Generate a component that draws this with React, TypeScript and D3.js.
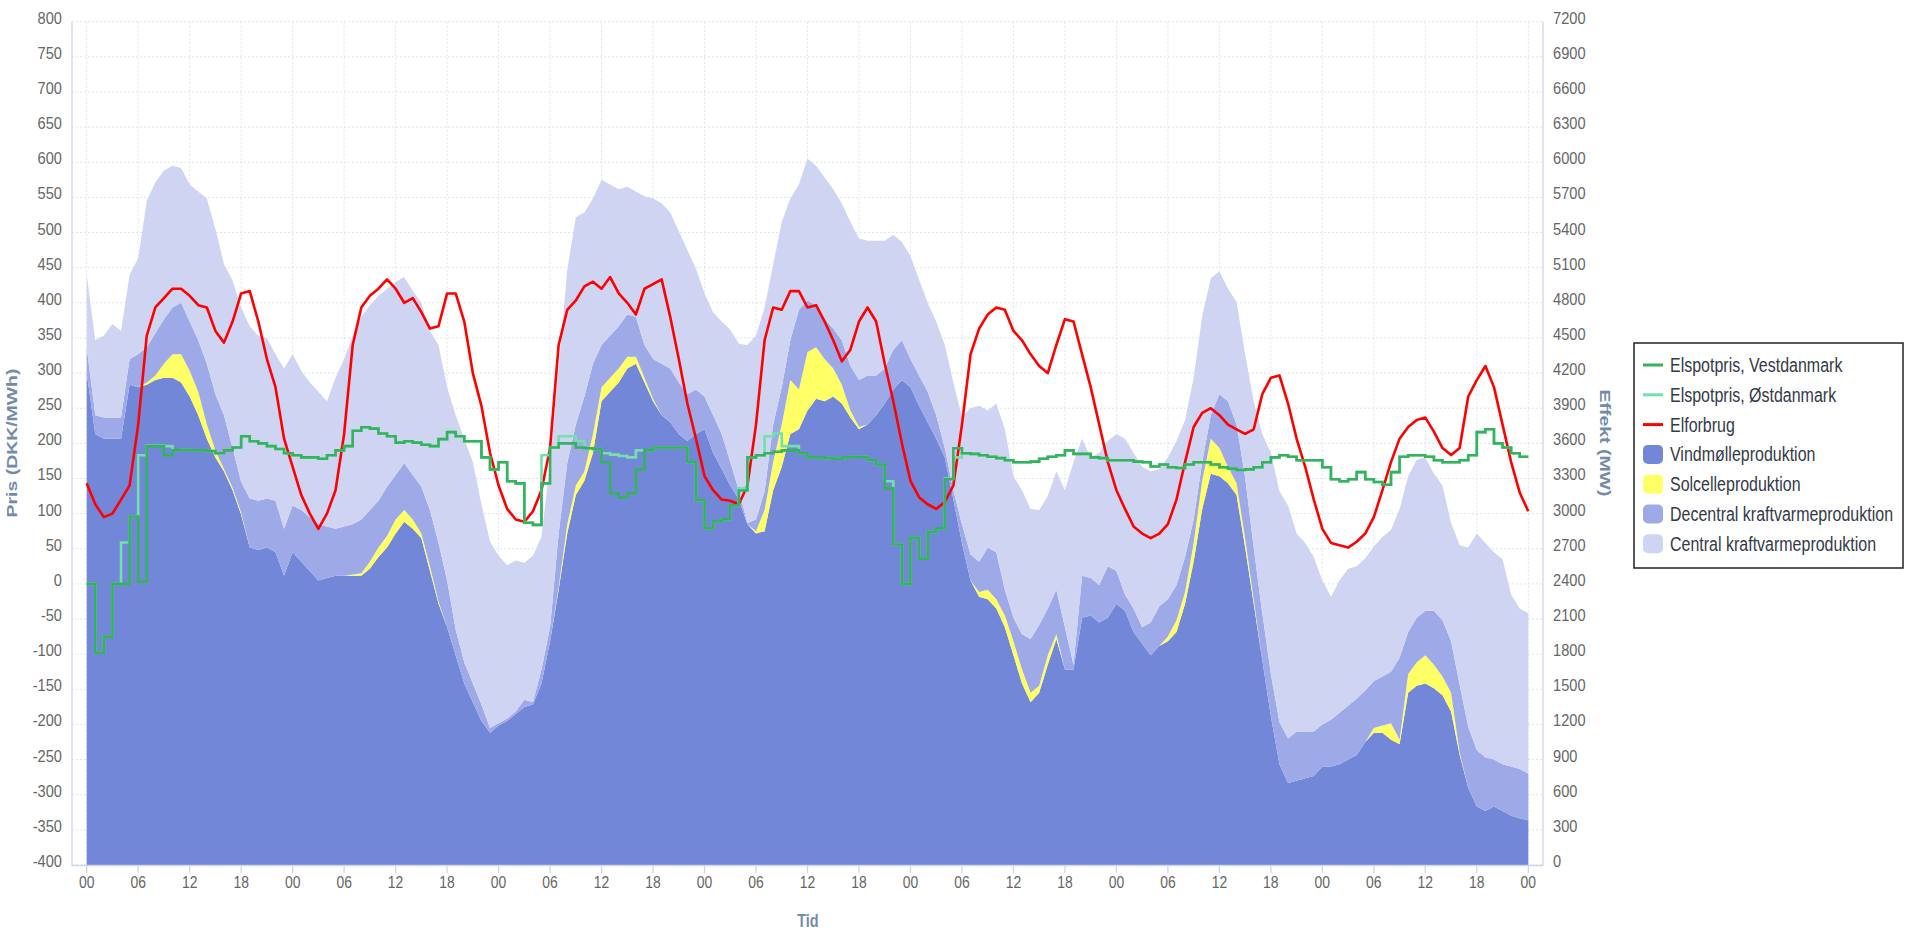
import React from 'react';
import * as d3 from 'd3';

// hours 0..168 (one week, hourly)
const hours = d3.range(0, 169);
const dayTicks = d3.range(0, 169, 6);
const tickLabels = ['00', '06', '12', '18'];
const prisTicks = d3.range(-400, 801, 50);
const effektTicks = d3.range(0, 7201, 300);

// MW, stacked areas
const vind = [4200, 3680, 3640, 3640, 3640, 4100, 4080, 4100, 4140, 4160, 4160, 4120, 4000, 3840, 3640, 3480, 3360, 3200, 2990, 2710, 2690, 2710, 2670, 2470, 2670, 2590, 2510, 2430, 2450, 2470, 2470, 2470, 2470, 2530, 2630, 2710, 2830, 2930, 2870, 2790, 2510, 2230, 2030, 1790, 1550, 1390, 1230, 1130, 1190, 1230, 1290, 1350, 1370, 1550, 1910, 2350, 2830, 3160, 3280, 3520, 3960, 4040, 4120, 4240, 4280, 4120, 3960, 3840, 3780, 3680, 3620, 3680, 3720, 3520, 3380, 3240, 3120, 2910, 2830, 2850, 3200, 3400, 3680, 3720, 3880, 3980, 3960, 4000, 3940, 3820, 3720, 3760, 3840, 3940, 4060, 4140, 4080, 3920, 3780, 3640, 3480, 3120, 2750, 2430, 2290, 2270, 2190, 2030, 1790, 1550, 1390, 1470, 1710, 1930, 1670, 1670, 2110, 2130, 2070, 2110, 2230, 2170, 1990, 1890, 1790, 1870, 1910, 1990, 2230, 2590, 3040, 3340, 3320, 3260, 3160, 2710, 2230, 1750, 1270, 860, 700, 720, 740, 760, 840, 840, 860, 900, 940, 1050, 1130, 1130, 1070, 1030, 1470, 1530, 1550, 1510, 1450, 1310, 940, 660, 500, 460, 500, 460, 420, 400, 380];
const sol = [0, 0, 0, 0, 0, 0, 0, 20, 40, 120, 200, 240, 220, 200, 120, 60, 20, 20, 20, 0, 0, 0, 0, 0, 0, 0, 0, 0, 0, 0, 0, 10, 20, 60, 80, 100, 120, 100, 80, 40, 40, 20, 0, 0, 0, 0, 0, 0, 0, 0, 0, 0, 0, 0, 0, 20, 80, 80, 80, 160, 120, 120, 120, 100, 60, 40, 20, 0, 0, 0, 0, 0, 0, 0, 0, 0, 0, 0, 20, 180, 240, 360, 460, 340, 500, 440, 360, 240, 160, 60, 20, 0, 0, 0, 0, 0, 0, 0, 0, 0, 0, 0, 0, 0, 40, 80, 80, 100, 120, 120, 80, 60, 80, 40, 0, 0, 0, 0, 0, 0, 0, 0, 0, 0, 0, 0, 40, 100, 100, 160, 240, 300, 240, 140, 100, 80, 40, 0, 0, 0, 0, 0, 0, 0, 0, 0, 0, 0, 0, 0, 40, 60, 140, 40, 160, 200, 240, 200, 160, 160, 20, 0, 0, 0, 0, 0, 0, 0, 0];
const decentral = [220, 160, 180, 180, 180, 220, 280, 300, 360, 380, 400, 440, 420, 440, 520, 480, 460, 340, 260, 420, 420, 420, 440, 400, 400, 440, 460, 480, 440, 400, 420, 430, 460, 440, 400, 420, 380, 400, 380, 400, 480, 500, 400, 220, 180, 160, 140, 40, 20, 20, 20, 60, 20, 120, 120, 460, 520, 520, 640, 600, 360, 360, 360, 360, 340, 280, 340, 440, 460, 440, 400, 380, 280, 320, 300, 200, 80, 10, 100, 160, 320, 320, 340, 680, 440, 360, 340, 340, 380, 380, 400, 420, 340, 300, 340, 340, 240, 260, 260, 200, 80, 80, 160, 220, 260, 360, 400, 220, 200, 300, 460, 520, 400, 380, 360, 40, 360, 320, 320, 440, 280, 140, 200, 140, 280, 340, 320, 300, 300, 200, 160, 200, 460, 560, 500, 520, 440, 400, 360, 360, 380, 420, 400, 380, 360, 400, 440, 460, 480, 440, 400, 420, 440, 700, 360, 380, 380, 460, 480, 440, 580, 520, 480, 460, 400, 400, 420, 420, 400];
const central = [620, 640, 700, 800, 740, 720, 820, 1250, 1290, 1270, 1210, 1150, 1170, 1270, 1410, 1410, 1290, 1430, 1490, 1470, 1410, 1370, 1250, 1370, 1290, 1190, 1150, 1130, 1070, 1290, 1430, 1610, 1730, 1750, 1750, 1690, 1650, 1590, 1570, 1570, 1530, 1690, 1650, 1830, 1910, 1890, 1710, 1590, 1430, 1310, 1290, 1170, 1250, 1130, 1410, 1410, 1650, 1770, 1570, 1410, 1410, 1290, 1170, 1090, 1070, 1270, 1370, 1370, 1330, 1290, 1230, 1030, 880, 880, 960, 1130, 1250, 1520, 1570, 1570, 1370, 1410, 1210, 1070, 1210, 1190, 1210, 1190, 1170, 1230, 1210, 1150, 1150, 1090, 980, 840, 880, 820, 760, 800, 880, 920, 920, 1250, 1330, 1170, 1270, 1370, 1210, 1230, 1110, 980, 960, 1010, 1170, 1730, 1170, 1030, 1130, 1070, 1170, 1330, 1330, 1370, 1290, 1170, 1210, 1230, 1170, 1210, 1250, 1170, 1050, 960, 1050, 1050, 1250, 1530, 1890, 1970, 1990, 1690, 1610, 1490, 1230, 1050, 1130, 1170, 1130, 1130, 1150, 1190, 1210, 1270, 1330, 1350, 1310, 1170, 1150, 1010, 1190, 1530, 1850, 1830, 1770, 1750, 1470, 1370, 1370];

// MW
const elforbrug = [3260, 3080, 2970, 3000, 3120, 3240, 3760, 4520, 4760, 4840, 4920, 4920, 4860, 4780, 4760, 4560, 4460, 4640, 4880, 4900, 4640, 4320, 4080, 3640, 3400, 3160, 3000, 2870, 3000, 3200, 3680, 4440, 4760, 4860, 4920, 5000, 4920, 4800, 4840, 4720, 4580, 4600, 4880, 4880, 4640, 4200, 3920, 3520, 3240, 3040, 2950, 2930, 3020, 3200, 3560, 4440, 4740, 4820, 4940, 4980, 4920, 5020, 4880, 4800, 4700, 4920, 4960, 5000, 4680, 4320, 3940, 3640, 3320, 3200, 3120, 3110, 3080, 3240, 3760, 4480, 4760, 4740, 4900, 4900, 4760, 4780, 4640, 4480, 4300, 4400, 4640, 4760, 4640, 4280, 3960, 3600, 3280, 3140, 3080, 3040, 3100, 3240, 3760, 4360, 4580, 4700, 4760, 4740, 4560, 4480, 4360, 4260, 4200, 4440, 4660, 4640, 4360, 4080, 3760, 3440, 3200, 3040, 2890, 2830, 2790, 2830, 2910, 3120, 3440, 3740, 3860, 3900, 3840, 3760, 3720, 3680, 3720, 4020, 4160, 4180, 3940, 3640, 3400, 3120, 2870, 2750, 2730, 2710, 2760, 2830, 2970, 3200, 3440, 3640, 3740, 3800, 3820, 3700, 3560, 3500, 3560, 4000, 4140, 4260, 4080, 3760, 3440, 3180, 3020];

// DKK/MWh, hourly steps
const prisVest = [0, -98, -75, 0, 0, 96, 3, 196, 196, 183, 190, 191, 190, 190, 189, 186, 190, 194, 210, 203, 200, 196, 192, 186, 183, 180, 180, 178, 183, 190, 196, 218, 223, 221, 214, 210, 201, 203, 201, 198, 196, 206, 216, 210, 203, 203, 180, 163, 173, 146, 143, 87, 84, 143, 194, 200, 200, 194, 193, 192, 173, 129, 123, 129, 163, 190, 194, 194, 194, 194, 173, 119, 79, 89, 92, 112, 133, 180, 183, 186, 188, 190, 190, 186, 180, 180, 179, 178, 180, 181, 181, 176, 170, 136, 56, 0, 66, 36, 74, 79, 149, 193, 186, 185, 183, 181, 179, 176, 173, 173, 174, 178, 181, 183, 190, 185, 185, 180, 179, 176, 176, 176, 174, 173, 167, 170, 166, 165, 170, 173, 173, 170, 166, 164, 162, 163, 166, 173, 180, 183, 181, 176, 176, 176, 166, 149, 146, 149, 159, 149, 145, 141, 159, 181, 183, 183, 181, 176, 173, 173, 176, 183, 216, 220, 200, 194, 186, 181];
const prisOst = [0, -98, -75, 0, 59, 96, 183, 197, 197, 196, 190, 191, 190, 190, 189, 186, 190, 194, 210, 203, 200, 196, 192, 186, 183, 180, 180, 178, 183, 190, 196, 218, 223, 221, 214, 210, 201, 203, 201, 198, 196, 206, 216, 210, 203, 203, 180, 163, 173, 146, 143, 87, 84, 183, 194, 210, 210, 203, 193, 192, 186, 184, 182, 180, 190, 190, 194, 194, 194, 194, 173, 119, 79, 89, 92, 112, 136, 180, 183, 210, 214, 196, 196, 186, 180, 180, 179, 178, 180, 181, 181, 176, 170, 146, 56, 0, 66, 36, 74, 79, 150, 180, 186, 185, 183, 181, 179, 176, 173, 173, 174, 178, 181, 183, 190, 185, 185, 180, 179, 176, 176, 176, 174, 173, 167, 170, 166, 165, 170, 173, 173, 170, 166, 164, 162, 163, 166, 173, 180, 183, 181, 176, 176, 176, 166, 149, 146, 149, 159, 149, 145, 141, 159, 181, 183, 183, 181, 176, 173, 173, 176, 183, 216, 220, 200, 194, 186, 181];

const legendItems = [
  { name: 'Elspotpris, Vestdanmark', color: '#33b35c', type: 'line' },
  { name: 'Elspotpris, Østdanmark', color: '#74e0ac', type: 'line' },
  { name: 'Elforbrug', color: '#ff0000', type: 'line' },
  { name: 'Vindmølleproduktion', color: '#7387d9', type: 'area' },
  { name: 'Solcelleproduktion', color: '#ffff66', type: 'area' },
  { name: 'Decentral kraftvarmeproduktion', color: '#9ea9e7', type: 'area' },
  { name: 'Central kraftvarmeproduktion', color: '#d0d4f3', type: 'area' },
];

const FONT = '"Liberation Sans", Arial, sans-serif';

const App: React.FC = () => {
  const x = d3.scaleLinear().domain([0, 168]).range([86.7, 1528.3]);
  const yPris = d3.scaleLinear().domain([-400, 800]).range([865, 21.7]);
  const yEffekt = d3.scaleLinear().domain([0, 7200]).range([865, 21.7]);
  const left = 72, right = 1543;

  const rows = hours.map((h, i) => ({ h, vind: vind[i], sol: sol[i], decentral: decentral[i], central: central[i] }));
  const keys = ['vind', 'sol', 'decentral', 'central'];
  const areaColors = ['#7387d9', '#ffff66', '#9ea9e7', '#d0d4f3'];
  const stacked = d3.stack<any>().keys(keys)(rows);
  const area = d3.area<any>()
    .x((d: any) => x(d.data.h))
    .y0((d: any) => yEffekt(d[0]))
    .y1((d: any) => yEffekt(d[1]));

  const forbrugLine = d3.line<number>()
    .x((_, i) => x(hours[i]))
    .y(d => yEffekt(d));

  const stepLine = d3.line<number>()
    .x((_, i) => x(hours[i]))
    .y(d => yPris(d))
    .curve(d3.curveStepAfter);
  const vest = [...prisVest, prisVest[prisVest.length - 1]];
  const ost = [...prisOst, prisOst[prisOst.length - 1]];

  return (
    <svg width={1905} height={934} style={{ position: 'absolute', left: 0, top: 0, background: '#fff' }} fontFamily={FONT}>
      {/* grid */}
      <g stroke="#dfe3ea" strokeWidth={1} strokeDasharray="2,2">
        {prisTicks.map(t => (
          <line key={'h' + t} x1={left} x2={right} y1={yPris(t)} y2={yPris(t)} />
        ))}
        {dayTicks.map(t => (
          <line key={'v' + t} x1={x(t)} x2={x(t)} y1={21.7} y2={865} />
        ))}
      </g>

      {/* stacked production */}
      {stacked.map((s, i) => (
        <path key={s.key} d={area(s as any) || ''} fill={areaColors[i]} />
      ))}

      <path d={forbrugLine(elforbrug) || ''} fill="none" stroke="#ff0000" strokeWidth={2.6} strokeLinejoin="round" />
      <path d={stepLine(ost) || ''} fill="none" stroke="#74e0ac" strokeWidth={2.6} />
      <path d={stepLine(vest) || ''} fill="none" stroke="#33b35c" strokeWidth={2.6} />

      {/* axis lines */}
      <g stroke="#ccd6eb" strokeWidth={1.3}>
        <line x1={left} x2={left} y1={21.7} y2={866} />
        <line x1={right} x2={right} y1={21.7} y2={866} />
        <line x1={left} x2={right} y1={865.5} y2={865.5} />
        {dayTicks.map(t => (
          <line key={'t' + t} x1={x(t)} x2={x(t)} y1={865} y2={873} />
        ))}
      </g>

      {/* left ticks */}
      <g fill="#666" fontSize={17}>
        {prisTicks.map(t => (
          <text key={'l' + t} transform={`translate(62,${yPris(t) + 2}) scale(0.86,1)`} textAnchor="end">{t}</text>
        ))}
        {effektTicks.map(t => (
          <text key={'r' + t} transform={`translate(1553,${yEffekt(t) + 2}) scale(0.86,1)`} textAnchor="start">{t}</text>
        ))}
        {dayTicks.map((t, i) => (
          <text key={'x' + t} transform={`translate(${x(t)},888) scale(0.82,1)`} textAnchor="middle">{tickLabels[i % 4]}</text>
        ))}
      </g>

      {/* axis titles */}
      <g fill="#748aab" fontWeight="bold" fontSize={14.3}>
        <text transform="translate(12,443) rotate(-90) scale(1.36,1)" textAnchor="middle" dominantBaseline="central">Pris (DKK/MWh)</text>
        <text transform="translate(1605,443) rotate(90) scale(1.36,1)" textAnchor="middle" dominantBaseline="central">Effekt (MW)</text>
        <text transform="translate(808,927) scale(0.8,1)" textAnchor="middle" fontSize={18}>Tid</text>
      </g>

      {/* legend */}
      <rect x={1634} y={343} width={269} height={225} fill="#fff" stroke="#222" strokeWidth={1.5} />
      {legendItems.map((it, i) => {
        const cy = 365 + i * 29.8;
        return (
          <g key={it.name}>
            {it.type === 'line'
              ? <line x1={1643} x2={1663} y1={cy} y2={cy} stroke={it.color} strokeWidth={3} />
              : <rect x={1643} y={cy - 9.5} width={20} height={19} rx={5} fill={it.color} />}
            <text transform={`translate(1670,${cy + 7}) scale(0.82,1)`} fontSize={19.5} fill="#333a48">{it.name}</text>
          </g>
        );
      })}
    </svg>
  );
};

export default App;
